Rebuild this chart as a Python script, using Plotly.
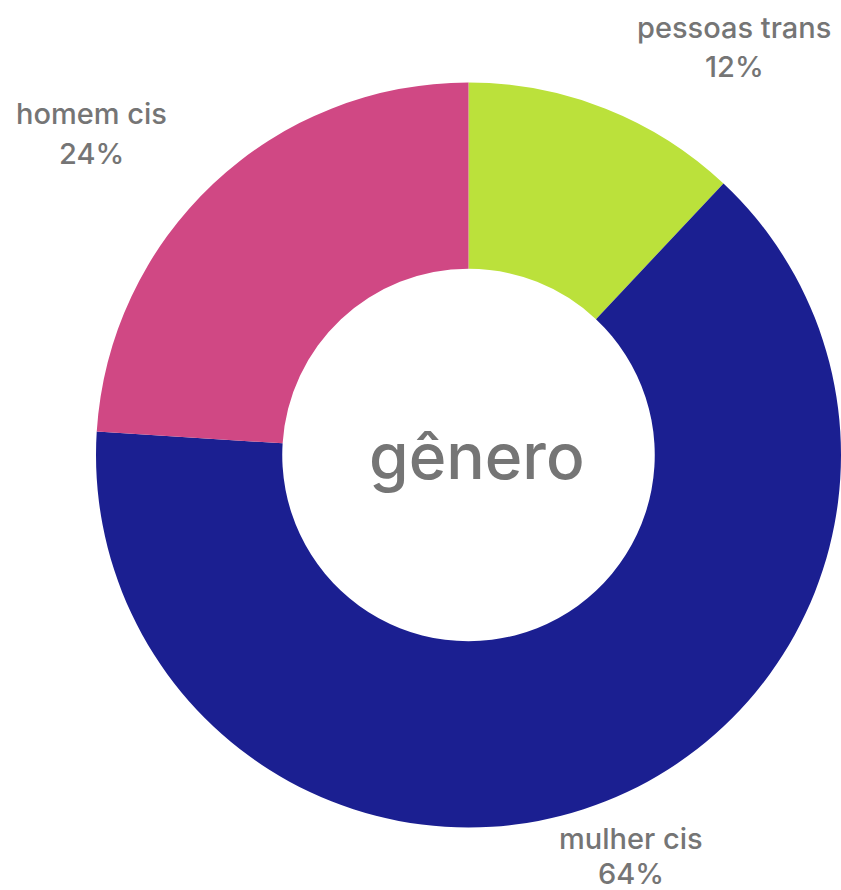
import plotly.graph_objects as go

W, H = 841, 890

# data
categories = ["pessoas trans", "mulher cis", "homem cis"]
values = [12, 64, 24]
colors = ["#BBE13B", "#1B1F91", "#D04884"]
center_title = "gênero"

# label placement (pixel centers of the two text lines) per category
label_pos = {
    "pessoas trans": (734, 27, 67),
    "mulher cis": (631, 838, 873),
    "homem cis": (91, 113, 154),
}

# pie geometry in pixels
cx, cy, r = 468.5, 455, 372.5

fig = go.Figure()
fig.add_trace(go.Pie(
    labels=categories,
    values=values,
    marker=dict(colors=colors, line=dict(width=0)),
    hole=0.5,
    sort=False,
    direction="clockwise",
    rotation=0,
    textinfo="none",
    hoverinfo="label+percent",
    showlegend=False,
    domain=dict(x=[(cx - r) / W, (cx + r) / W],
                y=[1 - (cy + r) / H, 1 - (cy - r) / H]),
))

font_family = "Inter, Roboto, sans-serif"
gray = "#757575"
total = sum(values)
annotations = []
for cat, v in zip(categories, values):
    px, y1, y2 = label_pos[cat]
    annotations.append(dict(x=px / W, y=1 - y1 / H, xref="paper", yref="paper",
                            text=cat, showarrow=False, xanchor="center", yanchor="middle",
                            font=dict(family=font_family, size=29, color=gray, weight=500)))
    annotations.append(dict(x=px / W, y=1 - y2 / H, xref="paper", yref="paper",
                            text=f"{round(v / total * 100)}%", showarrow=False,
                            xanchor="center", yanchor="middle",
                            font=dict(family=font_family, size=29, color=gray, weight=500)))
annotations.append(dict(x=477 / W, y=1 - 455 / H, xref="paper", yref="paper",
                        text=center_title, showarrow=False, xanchor="center", yanchor="middle",
                        font=dict(family=font_family, size=64, color=gray, weight=500)))

fig.update_layout(
    width=W, height=H,
    margin=dict(l=0, r=0, t=0, b=0),
    paper_bgcolor="white", plot_bgcolor="white",
    annotations=annotations,
)

fig.write_html("out.html")
